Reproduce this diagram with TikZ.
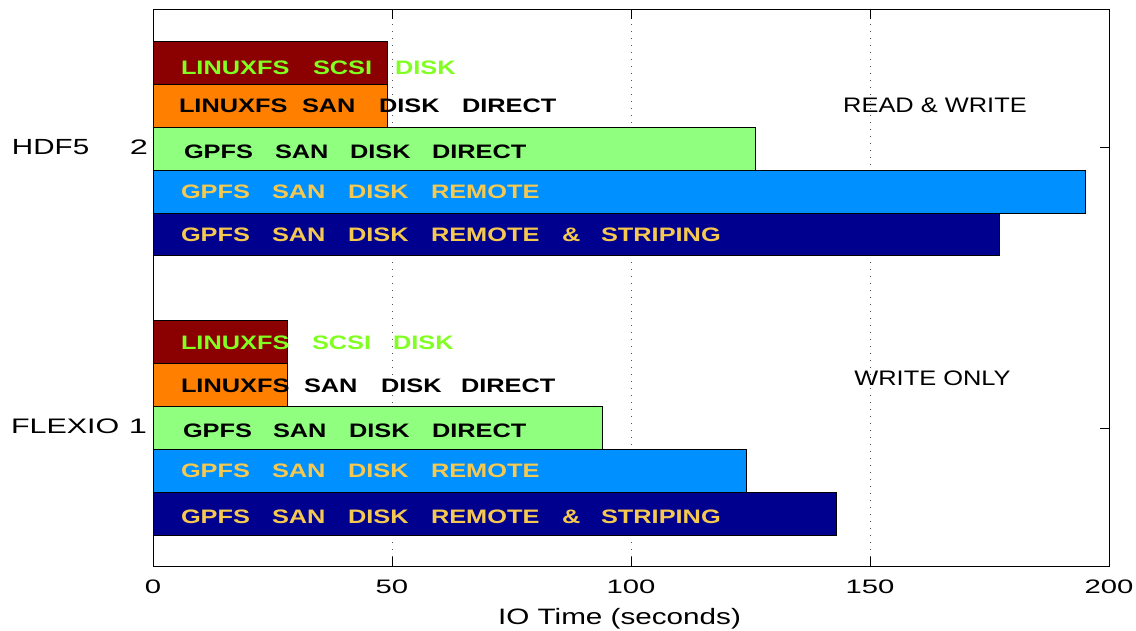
\documentclass[tikz,border=0pt]{standalone}
\usepackage{fontspec}
\setmainfont{Liberation Sans}
\usepackage{graphicx}
\definecolor{cDR}{HTML}{8B0000}
\definecolor{cOR}{HTML}{FF8000}
\definecolor{cLG}{HTML}{90FF80}
\definecolor{cBL}{HTML}{0090FF}
\definecolor{cNV}{HTML}{00008F}
\definecolor{cYL}{HTML}{F5C850}
\definecolor{cGT}{HTML}{80FF20}
\definecolor{cGrid}{HTML}{505050}
\newcommand\sx[2]{\scalebox{#1}[1]{#2}}
\newcommand\fs[1]{\fontsize{#1}{#1}\selectfont}
\tikzset{
  barbox/.style={draw=black, line width=1pt},
  word/.style={inner sep=0pt, outer sep=0pt, anchor=base west, font=\fs{19.5}\bfseries},
  plain/.style={inner sep=0pt, outer sep=0pt, anchor=base},
  plainw/.style={inner sep=0pt, outer sep=0pt, anchor=base west},
  gridline/.style={cGrid, line width=0.8pt, dash pattern=on 0.8pt off 6.2pt},
  tickline/.style={black, line width=1pt},
}
\newcommand\wordrow[4]{%
  \foreach \xx/\ww [count=\k] in {#4} {\node[word, text=#3] (#1-\k) at (\xx,#2) {\sx{1.3}{\ww}};}%
}
\begin{document}
\begin{tikzpicture}[x=1pt,y=-1pt]
\fill[white] (0,0) rectangle (1136,631);
\useasboundingbox (0,0) rectangle (1136,631);
% grid
\foreach \v in {392,631,870} {\draw[gridline] (\v,10) -- (\v,566);}
% ticks
\foreach \v in {392,631,870} {
  \draw[tickline] (\v,566) -- (\v,557);
  \draw[tickline] (\v,10) -- (\v,19);
}
\foreach \v in {148,428} {
  \draw[tickline] (1109,\v) -- (1100,\v);
  \draw[tickline] (153,\v) -- (162,\v);
}
% bars HDF5
\draw[barbox, fill=cDR] (153,42) rectangle (387.2,84.8);
\draw[barbox, fill=cOR] (153,84.8) rectangle (387.2,127.6);
\draw[barbox, fill=cLG] (153,127.6) rectangle (755.5,170.4);
\draw[barbox, fill=cBL] (153,170.4) rectangle (1085.5,213.2);
\draw[barbox, fill=cNV] (153,213.2) rectangle (999.5,256);
% bars FLEXIO
\draw[barbox, fill=cDR] (153,321) rectangle (287,363.9);
\draw[barbox, fill=cOR] (153,363.9) rectangle (287,406.8);
\draw[barbox, fill=cLG] (153,406.8) rectangle (602.5,449.5);
\draw[barbox, fill=cBL] (153,449.5) rectangle (746,492.4);
\draw[barbox, fill=cNV] (153,492.4) rectangle (836.8,535.5);
% axes box
\draw[line width=1pt] (153,10) rectangle (1109,566);
% bar labels HDF5
\wordrow{ha}{75}{cGT}{181/LINUXFS,313/SCSI,395/DISK}
\wordrow{hb}{112.7}{black}{179/LINUXFS,302/SAN,379/DISK,462/DIRECT}
\wordrow{hc}{159}{black}{184/GPFS,275/SAN,350/DISK,432/DIRECT}
\wordrow{hd}{199}{cYL}{181/GPFS,272/SAN,348/DISK,431/REMOTE}
\wordrow{he}{242}{cYL}{181/GPFS,272/SAN,348/DISK,431/REMOTE,562/{\&},601/STRIPING}
% bar labels FLEXIO
\wordrow{fa}{349}{cGT}{181/LINUXFS,312/SCSI,393/DISK}
\wordrow{fb}{392}{black}{181/LINUXFS,304/SAN,381/DISK,461/DIRECT}
\wordrow{fc}{437.5}{black}{183/GPFS,273/SAN,349/DISK,432/DIRECT}
\wordrow{fd}{477}{cYL}{181/GPFS,272/SAN,348/DISK,431/REMOTE}
\wordrow{fe}{523}{cYL}{181/GPFS,272/SAN,348/DISK,431/REMOTE,562/{\&},601/STRIPING}
% y labels
\node[plainw, font=\fs{21.9}] (hdf) at (12,155) {\sx{1.35}{HDF5}};
\node[plain, font=\fs{21}] (y2) at (139,155) {\sx{1.55}{2}};
\node[plainw, font=\fs{21}] (flx) at (11,433.3) {\sx{1.45}{FLEXIO}};
\node[plain, font=\fs{21}] (y1) at (138,433) {\sx{1.55}{1}};
% x tick labels
\foreach \v/\t in {153/0,392/50,631/100,870/150,1109/200} {
  \node[plain, font=\fs{19.5}] (xt\t) at (\v,593.3) {\sx{1.5}{\t}};
}
\node[plain, font=\fs{22.3}] (xlab) at (619.5,624) {\sx{1.33}{IO Time (seconds)}};
% annotations
\node[plain, font=\fs{21}] (rw) at (935,113) {\sx{1.21}{READ \& WRITE}};
\node[plain, font=\fs{21}] (wo) at (932.5,385) {\sx{1.21}{WRITE ONLY}};
\end{tikzpicture}
\end{document}
